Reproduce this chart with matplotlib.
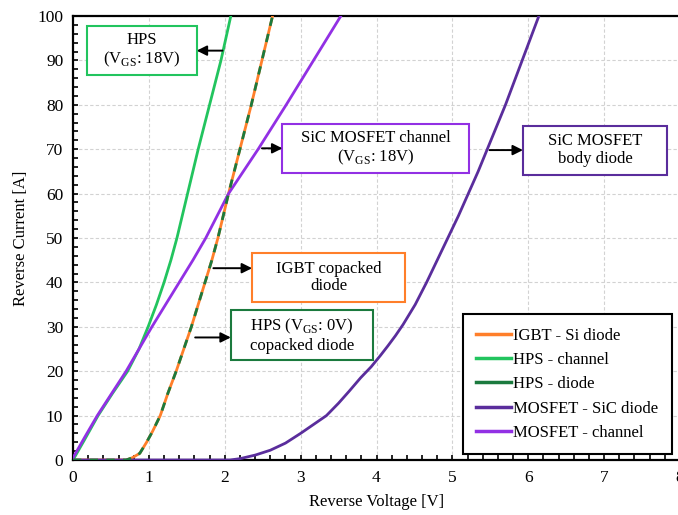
import matplotlib
matplotlib.use("Agg")
import matplotlib.pyplot as plt
from matplotlib.patches import Rectangle
from matplotlib.lines import Line2D
from matplotlib.ticker import MultipleLocator

plt.rcParams["font.family"] = ["Liberation Serif", "DejaVu Serif"]
plt.rcParams["mathtext.fontset"] = "custom"
plt.rcParams["mathtext.rm"] = "Liberation Serif"

# Reverse conduction characteristics (V in volts, I in amperes)
hps_ch_v = [0, 0.15, 0.33, 0.52, 0.72, 0.87, 0.99, 1.10, 1.20, 1.29, 1.37,
            1.44, 1.51, 1.65, 1.80, 1.95, 2.08]
hps_ch_i = [0, 4.5, 10, 15, 20, 25, 30, 35, 40, 45, 50, 55, 60, 70, 80, 90, 100]

mos_ch_v = [0, 0.15, 0.32, 0.51, 0.70, 0.87, 1.04, 1.22, 1.40, 1.58, 1.75,
            1.90, 2.05, 2.44, 2.81, 3.17, 3.53]
mos_ch_i = [0.5, 5, 10, 15, 20, 25, 30, 35, 40, 45, 50, 55, 60, 70, 80, 90, 100]

diode_v = [0, 0.70, 0.78, 0.88, 0.97, 1.05, 1.15, 1.25, 1.36, 1.46, 1.56,
           1.65, 1.74, 1.83, 1.91, 1.98, 2.05, 2.20, 2.35, 2.49, 2.63]
diode_i = [0, 0, 0.5, 1.5, 4, 6.5, 10, 15, 20, 25, 30, 35, 40, 45, 50, 55,
           60, 70, 80, 90, 100]

sic_v = [0, 2.07, 2.20, 2.40, 2.60, 2.80, 3.00, 3.17, 3.34, 3.50, 3.64, 3.79,
         3.93, 4.05, 4.15, 4.25, 4.35, 4.51, 4.66, 4.80, 4.94, 5.08, 5.21,
         5.34, 5.46, 5.58, 5.70, 5.92, 6.14]
sic_i = [0, 0, 0.3, 1.1, 2.2, 3.8, 6, 8, 10, 12.8, 15.5, 18.5, 21, 23.5,
         25.7, 28, 30.5, 35, 40, 45, 50, 55, 60, 65, 70, 75, 80, 90, 100]

C_ORANGE = "#ff7f2a"
C_GREEN = "#22c45e"
C_DGREEN = "#1b7a3e"
C_DPURPLE = "#5a2d9c"
C_VIOLET = "#9230e4"

fig = plt.figure(figsize=(6.78, 5.15), dpi=100)
ax = fig.add_axes([73 / 678, 55 / 515, 607 / 678, 444 / 515])

lw = 2.0
ax.plot(diode_v, diode_i, color=C_ORANGE, lw=lw, zorder=3,
        solid_joinstyle="round")
ax.plot(hps_ch_v, hps_ch_i, color=C_GREEN, lw=lw, zorder=3,
        solid_joinstyle="round")
ax.plot(diode_v, diode_i, color=C_DGREEN, lw=lw, zorder=4, dashes=(3, 3))
ax.plot(sic_v, sic_i, color=C_DPURPLE, lw=lw, zorder=3,
        solid_joinstyle="round")
ax.plot(mos_ch_v, mos_ch_i, color=C_VIOLET, lw=lw, zorder=3,
        solid_joinstyle="round")

ax.set_xlim(0, 8)
ax.set_ylim(0, 100)
ax.xaxis.set_major_locator(MultipleLocator(1))
ax.xaxis.set_minor_locator(MultipleLocator(0.2))
ax.yaxis.set_major_locator(MultipleLocator(10))
ax.yaxis.set_minor_locator(MultipleLocator(2))
ax.grid(True, which="major", color="#d2d2d2", lw=0.8, dashes=(3, 2))
ax.set_axisbelow(True)
ax.tick_params(which="both", direction="in", top=False, right=False,
               length=3.5, width=1.2, labelsize=12.5, pad=7)
for s in ax.spines.values():
    s.set_linewidth(1.6)

ax.set_xlabel("Reverse Voltage [V]", fontsize=12, labelpad=6)
ax.set_ylabel("Reverse Current [A]", fontsize=12, labelpad=6)

labels = ["IGBT - Si diode", "HPS - channel", "HPS - diode",
          "MOSFET - SiC diode", "MOSFET - channel"]
colors = [C_ORANGE, C_GREEN, C_DGREEN, C_DPURPLE, C_VIOLET]
handles = [Line2D([], [], color=c, lw=2.5) for c in colors]
leg = ax.legend(handles, labels, loc="lower right",
                bbox_to_anchor=(0.986, 0.013), borderaxespad=0,
                fontsize=12, frameon=True, fancybox=False,
                edgecolor="black", framealpha=1,
                handlelength=2.05, handletextpad=0.15, labelspacing=0.5,
                borderpad=0.8)
leg.get_frame().set_linewidth(1.5)


def note(x0, y0, x1, y1, text, color, tail, head):
    ax.add_patch(Rectangle((x0, y0), x1 - x0, y1 - y0, facecolor="white",
                           edgecolor=color, lw=1.5, zorder=6))
    ax.text((x0 + x1) / 2, (y0 + y1) / 2, text, ha="center", va="center",
            fontsize=12, zorder=7, linespacing=1.15)
    ax.annotate("", xy=head, xytext=tail, zorder=7,
                arrowprops=dict(arrowstyle="-|>", color="black", lw=1.4,
                                mutation_scale=15, shrinkA=0, shrinkB=0))


note(0.18, 86.7, 1.63, 97.7, "HPS\n(V$_{\\mathregular{GS}}$: 18V)", C_GREEN,
     (1.97, 92.2), (1.63, 92.2))
note(2.76, 64.7, 5.22, 75.7, "SiC MOSFET channel\n(V$_{\\mathregular{GS}}$: 18V)",
     C_VIOLET, (2.49, 70.2), (2.76, 70.2))
note(5.93, 64.3, 7.83, 75.2, "SiC MOSFET\nbody diode", C_DPURPLE,
     (5.49, 69.8), (5.93, 69.8))
note(2.36, 35.6, 4.38, 46.6, "IGBT copacked\ndiode", C_ORANGE,
     (1.85, 43.2), (2.36, 43.2))
note(2.08, 22.5, 3.95, 33.8, "HPS (V$_{\\mathregular{GS}}$: 0V)\ncopacked diode",
     C_DGREEN, (1.61, 27.6), (2.08, 27.6))

fig.savefig("out.png", dpi=100)
